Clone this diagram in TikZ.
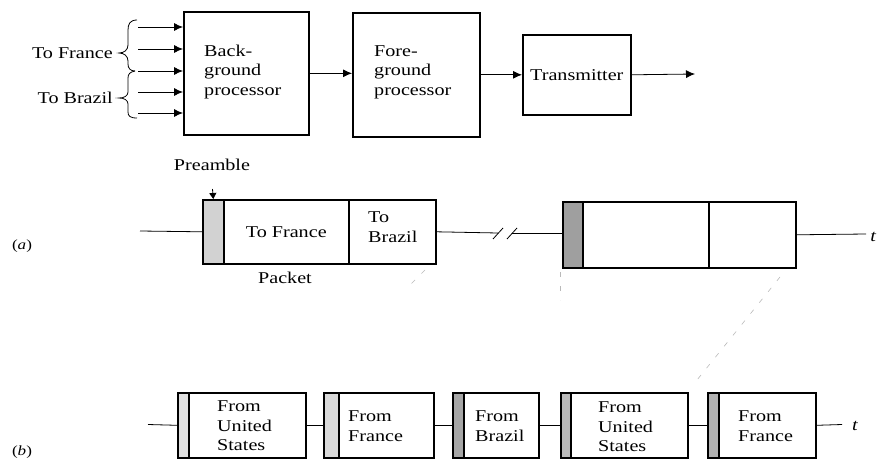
\documentclass[tikz,border=0pt]{standalone}
\usepackage{fontspec}
\setmainfont{Liberation Serif}[FakeStretch=1.22]
\usetikzlibrary{arrows.meta,calc}
\begin{document}
\begin{tikzpicture}[x=1pt,y=-1pt,
  box/.style={draw,line width=1.6pt,rectangle,inner sep=0pt,anchor=north west},
  lbl/.style={inner sep=0pt,font=\fontsize{16.5}{19.5}\selectfont},
  wire/.style={line width=0.8pt},
  arr/.style={line width=0.8pt,-{Latex[length=9pt,width=8pt]}},
  faint/.style={gray!55,line width=0.6pt,dash pattern=on 5pt off 9pt},
  tag/.style={inner sep=0pt,font=\fontsize{14}{16}\selectfont}]
\useasboundingbox (0,0) rectangle (877,460);

% ---------- top block diagram ----------
\node[box,minimum width=125,minimum height=123] (bg) at (183,11) {};
\node[box,minimum width=127,minimum height=124] (fg) at (352,12) {};
\node[box,minimum width=108,minimum height=80] (tx) at (522,34) {};
\node[lbl,anchor=west,align=left] (bgt) at (204,72) {Back-\\ground\\processor};
\node[lbl,anchor=west,align=left] (fgt) at (374,72) {Fore-\\ground\\processor};
\node[lbl] (txt) at (tx.center) {Transmitter};

\draw[arr] (bg.east) -- (bg.east -| fg.west);
\draw[arr] (fg.east) -- (tx.west);
\coordinate (out) at (695,74);
\draw[arr] (tx.east) -- (out);

\foreach \i/\yy in {1/27,2/49,3/71,4/92,5/113}{
  \coordinate (in\i) at (138,\yy);
  \draw[arr] (in\i) -- (in\i -| bg.west);
}

% braces
\draw[wire] (137,20) .. controls (130,20) and (128,24) .. (128,30) -- (128,45)
  .. controls (128,50) and (124,53) .. (119,53)
  .. controls (124,53) and (128,56) .. (128,61) -- (128,64)
  .. controls (128,68) and (130,71) .. (135,71);
\draw[wire] (135,71) .. controls (130,72) and (128,74) .. (128,78) -- (128,92)
  .. controls (128,96) and (124,98) .. (119,98)
  .. controls (124,98) and (128,100) .. (128,104) -- (128,112)
  .. controls (128,116) and (130,118) .. (137,118);
\node[lbl,anchor=east] (tofr) at (113,53) {To France};
\node[lbl,anchor=east] (tobr) at (113,98) {To Brazil};

% ---------- (a) ----------
\node[tag] (la) at (22,246) {(\textit{a})};
\node[lbl] (pream) at (212,165) {Preamble};
\node[box,fill=gray!35,minimum width=21,minimum height=64] (p1) at (202,199) {};
\node[box,minimum width=125,minimum height=64] (fr) at (223,199) {};
\node[box,minimum width=87,minimum height=64] (br) at (348,199) {};
\node[lbl] (frt) at (fr.center) {To France};
\node[lbl,anchor=west,align=left] (brt) at (368,227) {To\\Brazil};
\node[lbl] (pkt) at (285,278) {Packet};
\coordinate (pa) at (212.5,189);
\draw[line width=0.8pt,-{Triangle[length=6pt,width=7pt]}] (pa) -- (p1.north);

\coordinate (ain) at (140,231);
\draw[wire] (ain) -- (p1.west);

\node[box,fill=gray!75,minimum width=20,minimum height=66] (p2) at (562,201) {};
\node[box,minimum width=126,minimum height=66] (e1) at (582,201) {};
\node[box,minimum width=87,minimum height=66] (e2) at (708,201) {};

\coordinate (brk1) at (498,233);
\coordinate (brk2) at (512,233);
\draw[wire] (br.east) -- (brk1);
\draw[wire] (brk2) -- (brk2 -| p2.west);
\draw[wire] ($(brk1)+(-5,6)$) -- ($(brk1)+(5,-5)$);
\draw[wire] ($(brk2)+(-5,6)$) -- ($(brk2)+(5,-5)$);
\coordinate (aout) at (866,234);
\draw[wire] (e2.east) -- (aout);
\node[lbl,anchor=east] (ta) at (876.5,237) {\textit{t}};

% faint mapping lines
\draw[faint] (425,270) -- (408,287);
\draw[faint] (780,277) -- (697,380);
\draw[faint] (560,272) -- (560,300);

% ---------- (b) ----------
\node[tag] (lb) at (22,452) {(\textit{b})};
\foreach \n/\xa/\xb/\xc/\sh in {1/177/188/305/25,2/323/338/433/30,3/452/463/538/70,4/560/570/687/55,5/707/718/815/60}{
  \node[box,fill=gray!\sh,minimum width=\xb-\xa,minimum height=65] (s\n) at (\xa,392) {};
  \node[box,minimum width=\xc-\xb,minimum height=65] (b\n) at (\xb,392) {};
}
\node[lbl,anchor=west,align=left] (t1) at (217,426) {From\\United\\States};
\node[lbl,anchor=west,align=left] (t2) at (348,426) {From\\France};
\node[lbl,anchor=west,align=left] (t3) at (475,426) {From\\Brazil};
\node[lbl,anchor=west,align=left] (t4) at (598,427) {From\\United\\States};
\node[lbl,anchor=west,align=left] (t5) at (738,426) {From\\France};

\coordinate (bin) at (148,424.5);
\draw[wire] (bin) -- (s1.west);
\draw[wire] (b1.east) -- (s2.west);
\draw[wire] (b2.east) -- (s3.west);
\draw[wire] (b3.east) -- (s4.west);
\draw[wire] (b4.east) -- (s5.west);
\coordinate (bout) at (842,424.5);
\draw[wire] (b5.east) -- (bout);
\node[lbl,anchor=west] (tb) at (852,426) {\textit{t}};
\end{tikzpicture}
\end{document}
